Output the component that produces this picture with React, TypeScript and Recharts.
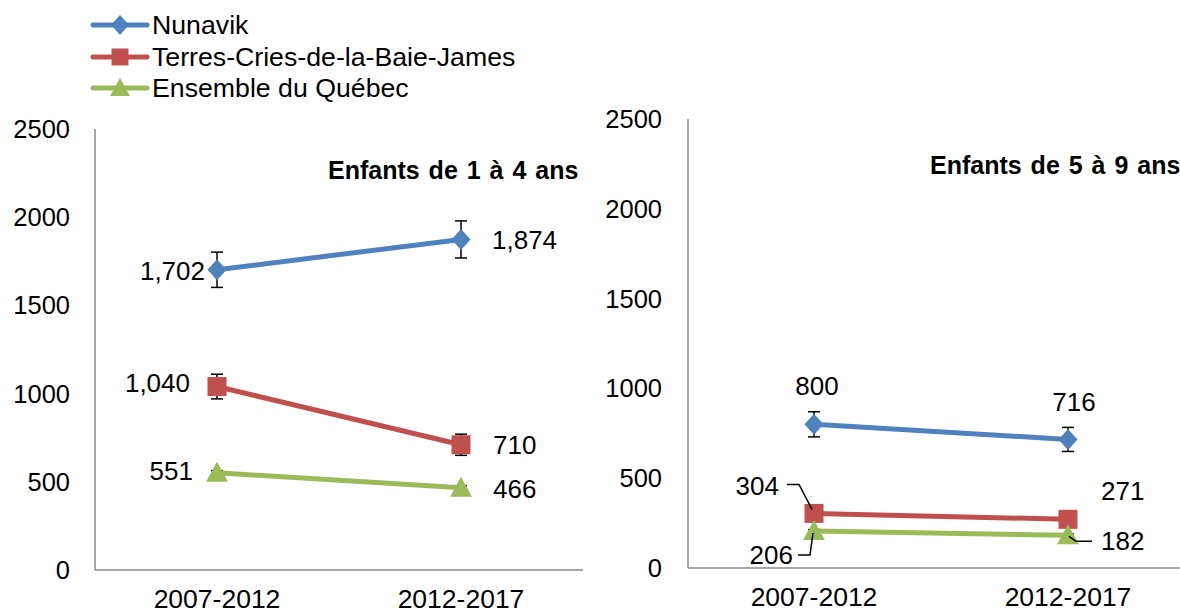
import React from 'react';
import { LineChart, Line, XAxis, YAxis, ErrorBar, LabelList } from 'recharts';

// ---------- data ----------
const categories = ['2007-2012', '2012-2017'];
const yTicks = [0, 500, 1000, 1500, 2000, 2500];
const seriesNames = ['Nunavik', 'Terres-Cries-de-la-Baie-James', 'Ensemble du Québec'];
const panelTitles = ['Enfants de 1 à 4 ans', 'Enfants de 5 à 9 ans'];

const nunavik1to4 = [1702, 1874];
const cries1to4 = [1040, 710];
const quebec1to4 = [551, 466];
const nunavik1to4Err = [100, 105];
const cries1to4Err = [70, 60];
const quebec1to4Err = [12, 12];

const nunavik5to9 = [800, 716];
const cries5to9 = [304, 271];
const quebec5to9 = [206, 182];
const nunavik5to9Err = [70, 67];
const cries5to9Err = [25, 25];
const quebec5to9Err = [8, 8];

const buildData = (n: number[], c: number[], q: number[], ne: number[], ce: number[], qe: number[]) =>
  categories.map((cat, i) => ({ cat, n: n[i], c: c[i], q: q[i], ne: ne[i], ce: ce[i], qe: qe[i] }));

const data1 = buildData(nunavik1to4, cries1to4, quebec1to4, nunavik1to4Err, cries1to4Err, quebec1to4Err);
const data2 = buildData(nunavik5to9, cries5to9, quebec5to9, nunavik5to9Err, cries5to9Err, quebec5to9Err);

// ---------- styles ----------
const FONT = '"Liberation Sans", Arial, sans-serif';
const BLUE = '#4F81BD';
const RED = '#C0504D';
const GREEN = '#9BBB59';
const AXIS = '#898989';

const fmt = (v: number) => v.toLocaleString('en-US');

type LP = { dx: number; dy: number; anchor: 'start' | 'middle' | 'end'; leader?: [number, number][] };

const makeLabel = (pos: LP[]) => (props: any) => {
  const x = props.x ?? props.viewBox?.x;
  const y = props.y ?? props.viewBox?.y;
  const p = pos[props.index];
  if (!p || x == null || y == null) return null;
  return (
    <g key={`lbl-${props.index}`}>
      {p.leader && (
        <polyline
          points={p.leader.map(([a, b]) => `${x + a},${y + b}`).join(' ')}
          fill="none"
          stroke="#000"
          strokeWidth={1.5}
        />
      )}
      <text
        x={x + p.dx}
        y={y + p.dy}
        textAnchor={p.anchor}
        dominantBaseline="central"
        fontSize={26}
        fontFamily={FONT}
        fill="#000"
      >
        {fmt(props.value)}
      </text>
    </g>
  );
};

const diamondPath = (cx: number, cy: number, w: number, h: number) =>
  `M${cx},${cy - h} L${cx + w},${cy} L${cx},${cy + h} L${cx - w},${cy} Z`;
const trianglePath = (cx: number, cy: number, w: number, h: number) =>
  `M${cx},${cy - h * 0.55} L${cx + w},${cy + h * 0.45} L${cx - w},${cy + h * 0.45} Z`;

const DiamondDot = (p: any) =>
  p.cx == null ? null : <path key={`d-${p.index}`} d={diamondPath(p.cx, p.cy, 9.5, 10.5)} fill={BLUE} />;
const SquareDot = (p: any) =>
  p.cx == null ? null : <rect key={`s-${p.index}`} x={p.cx - 9.5} y={p.cy - 9.5} width={19} height={19} fill={RED} />;
const TriangleDot = (p: any) =>
  p.cx == null ? null : <path key={`t-${p.index}`} d={trianglePath(p.cx, p.cy, 11, 20)} fill={GREEN} />;

const yAxisProps = (width: number, margin: number) => ({
  domain: [0, 2500] as [number, number],
  ticks: yTicks,
  interval: 0 as const,
  allowDataOverflow: true,
  axisLine: { stroke: AXIS, strokeWidth: 1.5 },
  tickLine: false,
  tickSize: 0,
  tickMargin: margin,
  width,
  tick: { fontSize: 25.5, fill: '#000', fontFamily: FONT },
});

const xAxisProps = (height: number, pad: number) => ({
  dataKey: 'cat',
  interval: 0 as const,
  axisLine: { stroke: AXIS, strokeWidth: 1.5 },
  tickLine: false,
  tickSize: 0,
  tickMargin: 19,
  height,
  padding: { left: pad, right: pad },
  tick: { fontSize: 26.5, fill: '#000', fontFamily: FONT },
});

const errProps = { width: 6, strokeWidth: 1.5, stroke: '#000', direction: 'y' as const };

// label offsets (style)
const lbl1 = {
  n: [{ dx: -12, dy: 1, anchor: 'end' }, { dx: 31, dy: 1, anchor: 'start' }] as LP[],
  c: [{ dx: -27, dy: -4, anchor: 'end' }, { dx: 32, dy: 0, anchor: 'start' }] as LP[],
  q: [{ dx: -24, dy: -2, anchor: 'end' }, { dx: 32, dy: 1, anchor: 'start' }] as LP[],
};
const lbl2 = {
  n: [{ dx: 3, dy: -38, anchor: 'middle' }, { dx: 6, dy: -37, anchor: 'middle' }] as LP[],
  c: [
    { dx: -35, dy: -27, anchor: 'end', leader: [[-27, -29], [-15, -29], [-2, -4]] },
    { dx: 33, dy: -28, anchor: 'start' },
  ] as LP[],
  q: [
    { dx: -21, dy: 24, anchor: 'end', leader: [[-16, 24], [-4, 24], [-1, 2]] },
    { dx: 33, dy: 6, anchor: 'start', leader: [[1, 1], [8, 6], [24, 6]] },
  ] as LP[],
};

const Panel = ({ data, lbl, width, height, margin, yW, yMargin, xH, pad }: any) => (
  <LineChart width={width} height={height} data={data} margin={margin}>
    <XAxis {...xAxisProps(xH, pad)} />
    <YAxis {...yAxisProps(yW, yMargin)} />
    <Line dataKey="n" stroke={BLUE} strokeWidth={5} dot={DiamondDot} activeDot={false} isAnimationActive={false}>
      <ErrorBar dataKey="ne" {...errProps} />
      <LabelList dataKey="n" content={makeLabel(lbl.n)} />
    </Line>
    <Line dataKey="c" stroke={RED} strokeWidth={5} dot={SquareDot} activeDot={false} isAnimationActive={false}>
      <ErrorBar dataKey="ce" {...errProps} />
      <LabelList dataKey="c" content={makeLabel(lbl.c)} />
    </Line>
    <Line dataKey="q" stroke={GREEN} strokeWidth={5} dot={TriangleDot} activeDot={false} isAnimationActive={false}>
      <ErrorBar dataKey="qe" {...errProps} />
      <LabelList dataKey="q" content={makeLabel(lbl.q)} />
    </Line>
  </LineChart>
);

const legendColors = [BLUE, RED, GREEN];
const legendY = [25, 57, 88];

const LegendMarker = ({ i, cx, cy }: { i: number; cx: number; cy: number }) => {
  if (i === 0) return <path d={diamondPath(cx, cy, 9, 10)} fill={BLUE} />;
  if (i === 1) return <rect x={cx - 8.5} y={cy - 8.5} width={17} height={17} fill={RED} />;
  return <path d={trianglePath(cx, cy, 10, 18)} fill={GREEN} />;
};

export default function App() {
  return (
    <div
      style={{
        position: 'absolute',
        left: 0,
        top: 0,
        width: 1180,
        height: 612,
        overflow: 'hidden',
        background: '#fff',
      }}
    >
      <div style={{ position: 'absolute', left: 0, top: 0 }}>
        <Panel
          data={data1}
          lbl={lbl1}
          width={600}
          height={612}
          margin={{ top: 129, right: 17, bottom: 0, left: 0 }}
          yW={95}
          yMargin={25}
          xH={42}
          pad={122}
        />
      </div>
      <div style={{ position: 'absolute', left: 588, top: 0 }}>
        <Panel
          data={data2}
          lbl={lbl2}
          width={620}
          height={612}
          margin={{ top: 119, right: 14, bottom: 0, left: 0 }}
          yW={100}
          yMargin={26}
          xH={44}
          pad={126}
        />
      </div>
      <svg
        width={1180}
        height={612}
        style={{ position: 'absolute', left: 0, top: 0, pointerEvents: 'none' }}
      >
        {seriesNames.map((name, i) => (
          <g key={name}>
            <line
              x1={93}
              x2={147}
              y1={legendY[i]}
              y2={legendY[i]}
              stroke={legendColors[i]}
              strokeWidth={5}
              strokeLinecap="round"
            />
            <LegendMarker i={i} cx={120} cy={legendY[i]} />
            <text
              x={152}
              y={legendY[i]}
              dominantBaseline="central"
              fontSize={26.7}
              fontFamily={FONT}
              fill="#000"
            >
              {name}
            </text>
          </g>
        ))}
        <text x={328} y={170} dominantBaseline="central" fontSize={25} fontWeight="bold" wordSpacing={2} fontFamily={FONT} fill="#000">
          {panelTitles[0]}
        </text>
        <text x={930} y={165} dominantBaseline="central" fontSize={25} fontWeight="bold" wordSpacing={2} fontFamily={FONT} fill="#000">
          {panelTitles[1]}
        </text>
      </svg>
    </div>
  );
}
